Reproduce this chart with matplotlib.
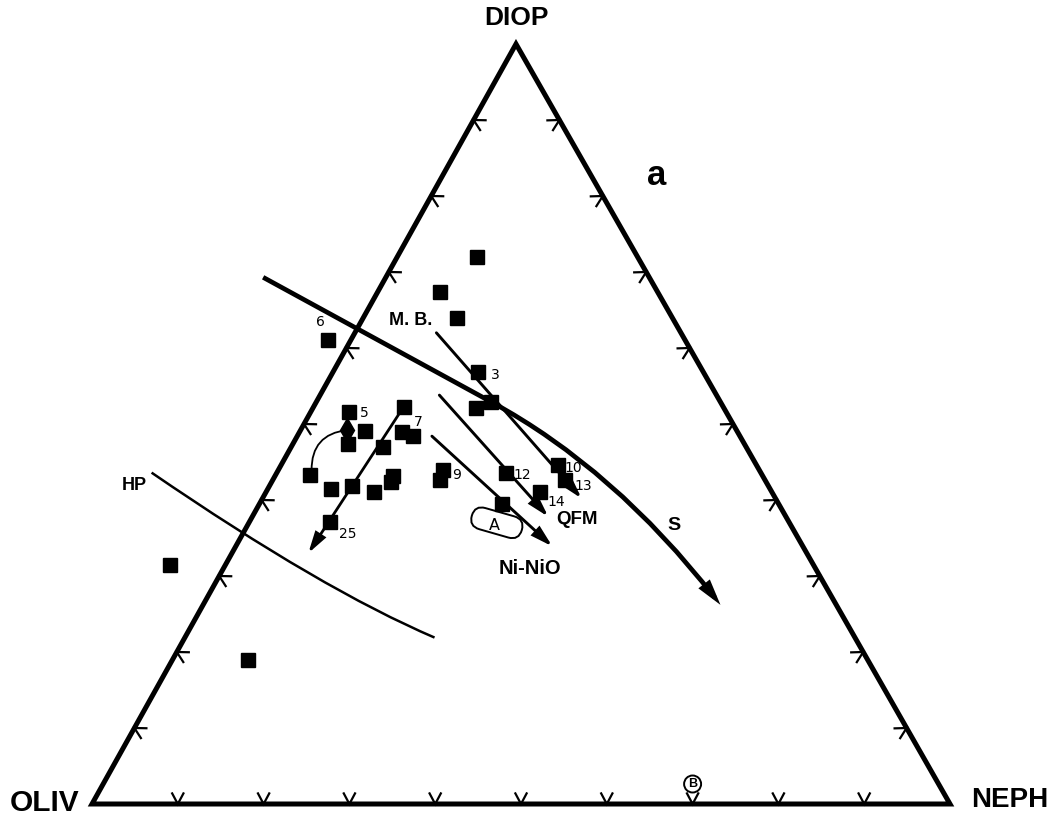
import numpy as np
import matplotlib
matplotlib.use('Agg')
import matplotlib.pyplot as plt
from matplotlib.transforms import Affine2D
from matplotlib.patches import Polygon, FancyArrowPatch, FancyBboxPatch, Circle, PathPatch
from matplotlib.path import Path

# compositions in percent, OLIV = 100 - DIOP - NEPH
diop = np.array([72.0, 67.4, 64.0, 61.1, 56.8, 52.9, 52.1, 51.6, 52.3, 49.1,
                 48.9, 48.4, 47.4, 47.0, 43.3, 41.4, 41.8, 41.1, 43.2, 42.4,
                 44.0, 42.6, 43.6, 44.6, 42.6, 41.1, 39.5, 37.1, 31.5, 18.9])
neph = np.array([9.3, 7.2, 10.9, -2.7, 16.9, 20.4, 19.0, 4.5, 10.5, 7.6,
                 12.0, 13.5, 6.4, 10.7, 4.0, 7.4, 9.7, 12.5, 13.7, 13.9,
                 19.2, 19.5, 26.7, 32.3, 34.1, 31.9, 28.3, 9.4, -6.5, 8.9])

# sample numbers written next to some points (index -> label)
point_labels = {3: '6', 4: '3', 7: '5', 8: '7', 21: '9', 22: '12',
                23: '10', 24: '13', 25: '14', 27: '25'}
label_offsets = {3: (-7, 18), 4: (17, -3), 7: (15, -1), 8: (14, -15),
                 21: (17, 5), 22: (16, -2), 23: (15, -3), 24: (18, -6),
                 25: (16, -10), 27: (18, -12)}

# trends (DIOP %, NEPH %); S and HP are drawn as smooth bends
s_diop = [69.3, 52.9, 44.1, 26.2]
s_neph = [-14.3, 20.4, 39.1, 60.3]
hp_diop = [43.6, 28.2, 21.9]
hp_neph = [-14.6, 12.9, 29.1]
mb_diop, mb_neph = [62.0, 40.2], [9.5, 37.2]
qfm_diop, qfm_neph = [53.8, 37.8], [13.9, 34.5]
nio_diop, nio_neph = [48.4, 33.9], [15.7, 36.9]
t25_diop, t25_neph = [52.3, 33.0], [10.5, 8.9]
curl_diop, curl_neph = [43.9, 49.2], [3.9, 5.4]
field_a = (37.0, 28.9)
point_b = (0.0, 70.0)
tick_pct = np.arange(10, 100, 10)

# triangle corners on the page (pixels, y downwards)
OLIV_XY = (92, 804)
NEPH_XY = (950, 804)
DIOP_XY = (516, 44)

fig = plt.figure(figsize=(10.55, 8.24), dpi=100)
ax = fig.add_axes([0, 0, 1, 1])
ax.set_xlim(0, 1055)
ax.set_ylim(824, 0)
ax.axis('off')

# (neph %, diop %) -> page
tern = Affine2D(np.array([
    [(NEPH_XY[0] - OLIV_XY[0]) / 100, (DIOP_XY[0] - OLIV_XY[0]) / 100, OLIV_XY[0]],
    [(NEPH_XY[1] - OLIV_XY[1]) / 100, (DIOP_XY[1] - OLIV_XY[1]) / 100, OLIV_XY[1]],
    [0, 0, 1]]))
tt = tern + ax.transData

# frame
ax.add_patch(Polygon([[0, 0], [100, 0], [0, 100]], closed=True, fill=False,
                     lw=3.6, ec='k', joinstyle='miter', transform=tt))

# chevron ticks on each edge
edges = [lambda f: (f, 0), lambda f: (0, f), lambda f: (100 - f, f)]
centre = tern.transform([100 / 3, 100 / 3])
for pos in edges:
    for f in tick_pct:
        p = tern.transform(pos(f))
        a = tern.transform(pos(f - 5))
        b = tern.transform(pos(f + 5))
        t = (b - a) / np.hypot(*(b - a))
        nrm = np.array([-t[1], t[0]])
        if np.dot(centre - p, nrm) < 0:
            nrm = -nrm
        ang = np.arctan2(nrm[1], nrm[0])
        arms = [p + 12 * np.array([np.cos(ang + da), np.sin(ang + da)])
                for da in (np.radians(28), -np.radians(28))]
        ax.plot([arms[0][0], p[0], arms[1][0]], [arms[0][1], p[1], arms[1][1]],
                color='k', lw=1.6, solid_joinstyle='miter', clip_on=False)

# circled B above the 70 % tick
bx, by = tern.transform([point_b[1], point_b[0]])
ax.add_patch(Circle((bx, by - 20), 8.5, fill=True, fc='white', ec='k', lw=1.4))
ax.text(bx, by - 20, 'B', ha='center', va='center', fontsize=9,
        fontweight='bold', family='Liberation Sans')

# HP boundary
hp_path = Path(np.column_stack([hp_neph, hp_diop]),
               [Path.MOVETO, Path.CURVE3, Path.CURVE3])
ax.add_patch(PathPatch(hp_path, fill=False, ec='k', lw=1.8, transform=tt))

# S trend
s_path = Path(np.column_stack([s_neph, s_diop]),
              [Path.MOVETO, Path.LINETO, Path.CURVE3, Path.CURVE3])
ax.add_patch(FancyArrowPatch(path=s_path,
                             arrowstyle='-|>,head_length=0.55,head_width=0.15',
                             mutation_scale=20, lw=3.4, color='k', transform=tt,
                             joinstyle='miter', capstyle='butt'))


def arrow(d, n, lw=2.1, hl=0.6, hw=0.17):
    ax.annotate('', xy=(n[1], d[1]), xytext=(n[0], d[0]),
                xycoords=tt, textcoords=tt,
                arrowprops=dict(arrowstyle=f'-|>,head_length={hl},head_width={hw}',
                                lw=lw, color='k', shrinkA=0, shrinkB=0,
                                mutation_scale=20, joinstyle='miter'))


arrow(mb_diop, mb_neph)
arrow(qfm_diop, qfm_neph)
arrow(nio_diop, nio_neph)
arrow(t25_diop, t25_neph, lw=2.0)

# small curved arrow ending with a diamond
ax.annotate('', xy=(curl_neph[1], curl_diop[1]), xytext=(curl_neph[0], curl_diop[0]),
            xycoords=tt, textcoords=tt,
            arrowprops=dict(arrowstyle='-', lw=1.3, color='k', shrinkA=0, shrinkB=0,
                            connectionstyle='arc3,rad=-0.45'))
ax.plot([curl_neph[1]], [curl_diop[1]], 'd', color='k', ms=12, transform=tt, zorder=4)

# field A
cx, cy = tern.transform([field_a[1], field_a[0]])
ax.add_patch(FancyBboxPatch((-26, -11), 52, 22,
                            boxstyle='round,pad=0,rounding_size=11',
                            fc='white', ec='k', lw=1.4, zorder=3,
                            transform=Affine2D().rotate_deg(16).translate(cx, cy) + ax.transData))
ax.text(cx - 2, cy + 3, 'A', ha='center', va='center', fontsize=11.5, zorder=4)

# data points
ax.plot(neph, diop, 's', color='k', ms=10, transform=tt, clip_on=False, zorder=5)
for i, lab in point_labels.items():
    ax.annotate(lab, xy=(neph[i], diop[i]), xycoords=tt,
                xytext=label_offsets[i], textcoords='offset pixels',
                ha='center', va='center', fontsize=10)

# corner names
bold = dict(fontweight='bold', family='Liberation Sans', ha='center', va='center')
ax.annotate('DIOP', xy=(0, 100), xycoords=tt, xytext=(0, 26),
            textcoords='offset pixels', fontsize=19, **bold)
ax.annotate('OLIV', xy=(0, 0), xycoords=tt, xytext=(-47, 1),
            textcoords='offset pixels', fontsize=21.5, **bold)
ax.annotate('NEPH', xy=(100, 0), xycoords=tt, xytext=(60, 4),
            textcoords='offset pixels', fontsize=20, **bold)

# curve names
ax.text(411, 320, 'M. B.', fontsize=13, **bold)
ax.text(577, 520, 'QFM', fontsize=13.5, **bold)
ax.text(530, 568, 'Ni-NiO', fontsize=14.5, **bold)
ax.text(134, 485, 'HP', fontsize=13, **bold)
ax.text(674, 525, 'S', fontsize=14, **bold)
ax.text(657, 175, 'a', fontsize=25, **bold)

fig.savefig('out.png', dpi=100, facecolor='white')
